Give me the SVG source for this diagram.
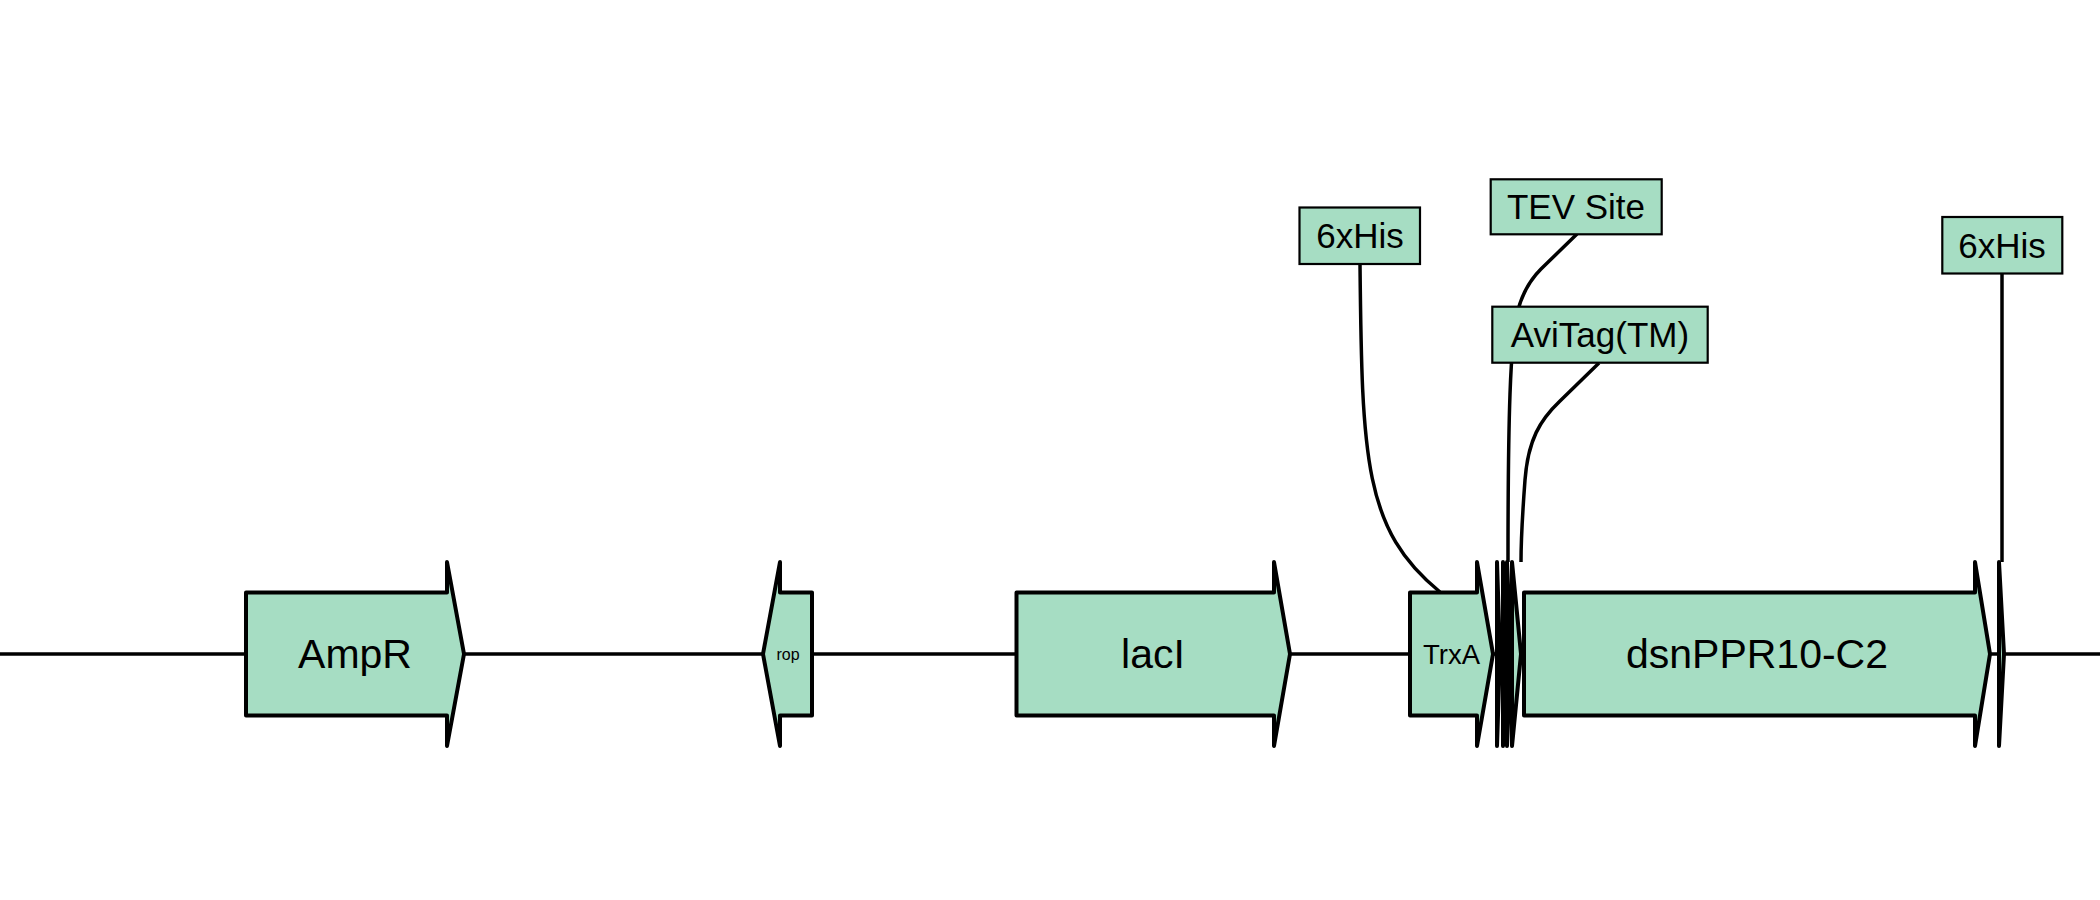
<svg xmlns="http://www.w3.org/2000/svg" width="2100" height="900" viewBox="0 0 2100 900">
<style>
.bb{stroke:#000;stroke-width:3.5;fill:none}
.feat{fill:#a6ddc3;stroke:#000;stroke-width:4;stroke-linejoin:round}
.ftxt{font-family:"Liberation Sans",Arial,sans-serif;fill:#000;text-anchor:middle}
.lbl{fill:#a6ddc3;stroke:#000;stroke-width:2.2}
.ltxt{font-family:"Liberation Sans",Arial,sans-serif;font-size:35px;fill:#000;text-anchor:middle}
.lead{stroke:#000;stroke-width:3.5;fill:none}
</style>
<rect width="2100" height="900" fill="#fff"/>
<line class="bb" x1="0" y1="654" x2="2100" y2="654"/>
<g id="AmpR">
<path class="feat" d="M246,592.5 H447 V562 L464,654 L447,746 V715.5 H246 Z"/>
<text class="ftxt" x="355" y="668" font-size="41">AmpR</text>
</g>
<g id="rop">
<path class="feat" d="M812,592.5 H780 V562 L763,654 L780,746 V715.5 H812 Z"/>
<text class="ftxt" x="788" y="660" font-size="16">rop</text>
</g>
<g id="lacI">
<path class="feat" d="M1016.5,592.5 H1274 V562 L1290,654 L1274,746 V715.5 H1016.5 Z"/>
<text class="ftxt" x="1153" y="668" font-size="41">lacI</text>
</g>
<g id="TrxA">
<path class="feat" d="M1410,592.5 H1477 V562 L1493,654 L1477,746 V715.5 H1410 Z"/>
<text class="ftxt" x="1451.5" y="664" font-size="27.5">TrxA</text>
</g>
<g id="f1"><path class="feat" d="M1497,562 L1500,654 L1497,746 Z"/></g>
<g id="f2"><path class="feat" d="M1503,562 L1506,654 L1503,746 Z"/></g>
<g id="f3"><path class="feat" d="M1507,562 L1511,654 L1507,746 Z"/></g>
<g id="f4"><path class="feat" d="M1512,562 L1521,654 L1512,746 Z"/></g>
<g id="dsnPPR10-C2">
<path class="feat" d="M1524,592.5 H1975 V562 L1990,654 L1975,746 V715.5 H1524 Z"/>
<text class="ftxt" x="1757" y="668" font-size="41">dsnPPR10-C2</text>
</g>
<g id="f5"><path class="feat" d="M1999,562 L2004,654 L1999,746 Z"/></g>
<g id="connectors">
<path class="lead" d="M1360,264 C1362,460 1364,530 1440,592"/>
<path class="lead" d="M1577,234 L1541,269 C1528,282 1522,295 1518,310 C1510,340 1508,420 1508,562"/>
<path class="lead" d="M1599,363 L1560,401 C1540,420 1528,440 1525,480 C1522,520 1521,540 1521,562"/>
<path class="lead" d="M2002,273 L2002,562"/>
</g>
<g id="label-6xHis-1">
<rect class="lbl" x="1299.5" y="207.5" width="120.5" height="56.5"/>
<text class="ltxt" x="1360" y="248">6xHis</text>
</g>
<g id="label-TEV">
<rect class="lbl" x="1490.7" y="179.3" width="171" height="55"/>
<text class="ltxt" x="1576" y="219">TEV Site</text>
</g>
<g id="label-AviTag">
<rect class="lbl" x="1492.3" y="306.7" width="215.4" height="56"/>
<text class="ltxt" x="1600" y="347">AviTag(TM)</text>
</g>
<g id="label-6xHis-2">
<rect class="lbl" x="1942.3" y="217" width="120" height="56.5"/>
<text class="ltxt" x="2002" y="257.5">6xHis</text>
</g>
</svg>
